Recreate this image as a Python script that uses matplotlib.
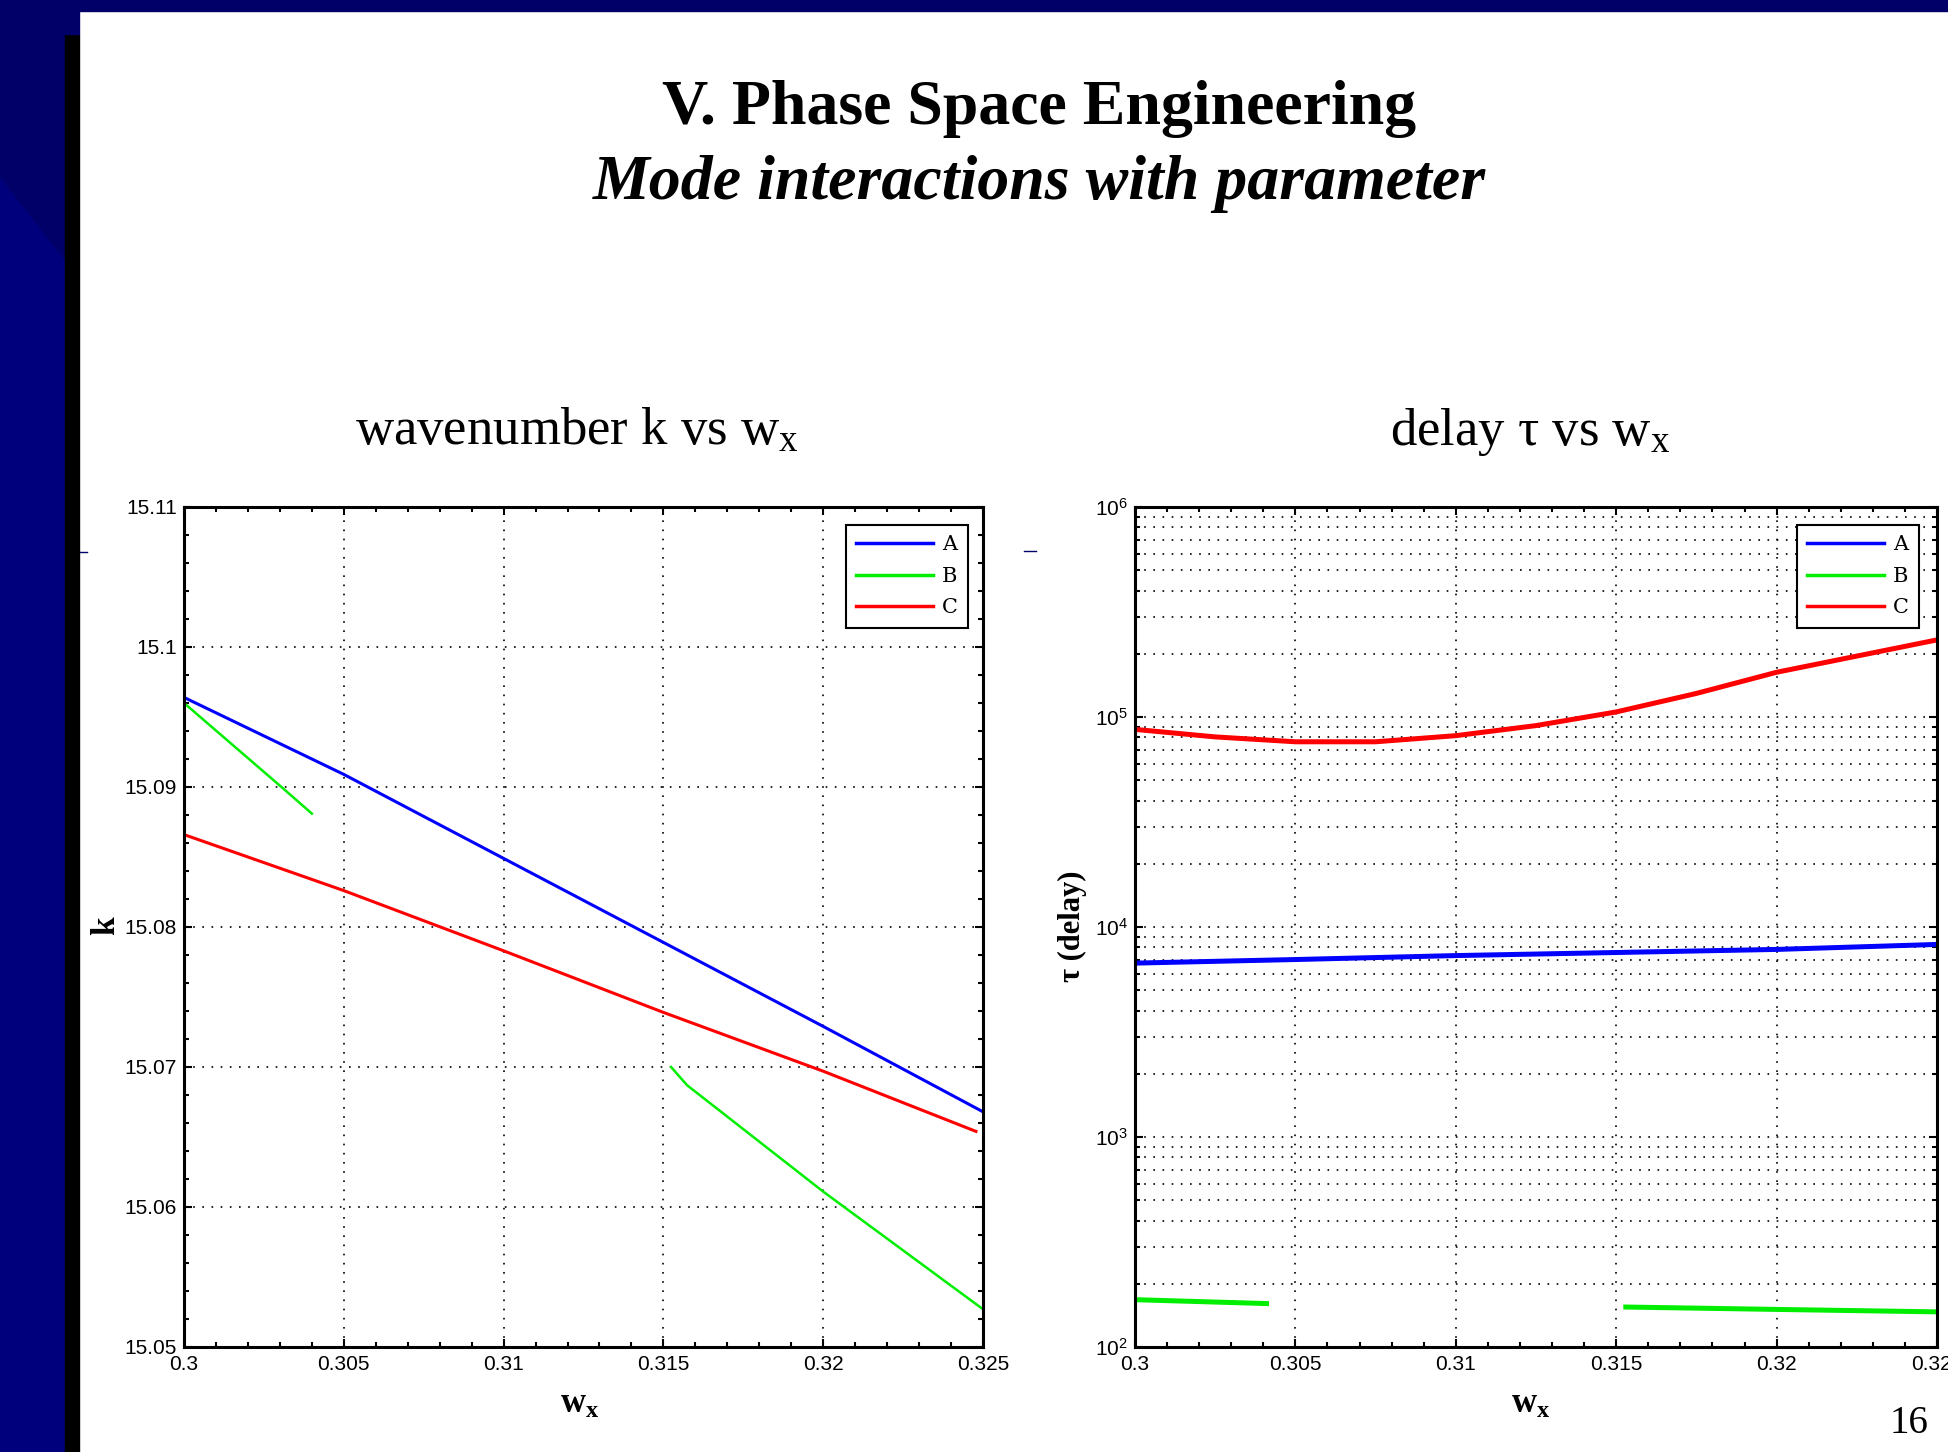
import numpy as np
import matplotlib
matplotlib.use("Agg")
import matplotlib.pyplot as plt
from matplotlib.patches import Rectangle, Polygon
from matplotlib.lines import Line2D
from matplotlib.ticker import FixedLocator, FormatStrFormatter, FuncFormatter, LogLocator, NullFormatter

plt.rcParams['mathtext.fontset'] = 'custom'
plt.rcParams['mathtext.rm'] = 'Liberation Serif'
plt.rcParams['mathtext.it'] = 'Liberation Serif:italic'
plt.rcParams['mathtext.bf'] = 'Liberation Serif:bold'
plt.rcParams['mathtext.sf'] = 'Liberation Sans'

# ---- data ----
# wavenumber k vs w_x
wx_kA = [0.300, 0.305, 0.310, 0.315, 0.320, 0.325]
k_A = [15.0964, 15.0909, 15.0849, 15.0789, 15.0729, 15.0668]
wx_kB1 = [0.300, 0.3031, 0.3040]
k_B1 = [15.0960, 15.0899, 15.0881]
wx_kB2 = [0.31524, 0.31574, 0.320, 0.325]
k_B2 = [15.0700, 15.0687, 15.0611, 15.0527]
wx_kC = [0.300, 0.305, 0.310, 0.315, 0.320, 0.32478]
k_C = [15.0866, 15.0826, 15.0783, 15.0739, 15.0697, 15.0654]

# delay tau vs w_x
wx_tA = [0.300, 0.305, 0.310, 0.315, 0.320, 0.325]
tau_A = [6730, 7000, 7310, 7560, 7820, 8260]
wx_tB1 = [0.300, 0.3041]
tau_B1 = [168, 161]
wx_tB2 = [0.3153, 0.320, 0.325]
tau_B2 = [155, 151, 147]
wx_tC = [0.300, 0.3025, 0.305, 0.3075, 0.310, 0.3125, 0.315, 0.3175, 0.320, 0.3225, 0.325]
tau_C = [87300, 80400, 76200, 76200, 81500, 91000, 105700, 129500, 163300, 195000, 232900]

x_ticks = [0.300, 0.305, 0.310, 0.315, 0.320, 0.325]
k_ticks = [15.05, 15.06, 15.07, 15.08, 15.09, 15.10, 15.11]
legend_labels = ['A', 'B', 'C']

W, H = 1949, 1452
navy = '#000068'
navy2 = '#00007c'
fig = plt.figure(figsize=(W / 100, H / 100), dpi=100)
fig.patch.set_facecolor('white')


def fx(x):
    return x / W


def fy(y):
    return 1 - y / H


# slide decoration
fig.patches.append(Rectangle((0, fy(11)), 1, 11 / H, transform=fig.transFigure, color=navy, zorder=0))
fig.patches.append(Rectangle((0, 0), fx(65), 1, transform=fig.transFigure, color=navy, zorder=0))
fig.patches.append(Polygon([(0, fy(178)), (fx(65), fy(262)), (fx(65), 0), (0, 0)],
                           closed=True, transform=fig.transFigure, color=navy2, zorder=0))
fig.patches.append(Rectangle((fx(65), 0), fx(14), fy(34), transform=fig.transFigure, color='black', zorder=0))
fig.patches.append(Rectangle((fx(65), fy(34)), fx(14), 34 / H, transform=fig.transFigure, color=navy, zorder=0))
fig.lines.append(Line2D([fx(80), fx(87)], [fy(552), fy(552)], transform=fig.transFigure, color=navy, lw=1))
fig.lines.append(Line2D([fx(1024), fx(1036)], [fy(551), fy(551)], transform=fig.transFigure, color=navy, lw=1))

serif = 'Liberation Serif'
fig.text(fx(1039), fy(124), 'V. Phase Space Engineering', family=serif, weight='bold',
         fontsize=46, ha='center', va='baseline')
fig.text(fx(1039), fy(199), 'Mode interactions with parameter', family=serif, weight='bold',
         style='italic', fontsize=46, ha='center', va='baseline')
fig.text(fx(577), fy(445), r'wavenumber k vs w$_\mathrm{x}$', family=serif, fontsize=38,
         ha='center', va='baseline')
fig.text(fx(1530), fy(445), r'delay τ vs w$_\mathrm{x}$', family=serif, fontsize=38,
         ha='center', va='baseline')
fig.text(fx(1909), fy(1433), '16', family=serif, fontsize=28, ha='center', va='baseline')

# axis labels
fig.text(fx(106), fy(926), 'k', family=serif, weight='bold', fontsize=24, rotation=90,
         ha='center', va='center')
fig.text(fx(1072), fy(926), 'τ (delay)', family=serif, weight='bold', fontsize=22, rotation=90,
         ha='center', va='center')
fig.text(fx(580), fy(1413), r'$\mathbf{w}_\mathbf{x}$', fontsize=25, ha='center', va='baseline')
fig.text(fx(1531), fy(1413), r'$\mathbf{w}_\mathbf{x}$', fontsize=25, ha='center', va='baseline')

grid_kw = dict(color='black', linestyle=(0, (1, 4.5)), linewidth=1.2)
tick_font = 'Liberation Sans'
legend_font = {'family': 'DejaVu Serif', 'size': 15}


def style_axes(ax):
    for s in ax.spines.values():
        s.set_linewidth(2.2)
    ax.tick_params(which='both', direction='in', top=True, right=True, width=1.5,
                   labelsize=15, colors='black')
    ax.tick_params(which='major', length=6)
    ax.tick_params(which='minor', length=3.6)
    ax.tick_params(axis='x', pad=6)
    ax.tick_params(axis='y', pad=5)
    for lab in ax.get_xticklabels() + ax.get_yticklabels():
        lab.set_family(tick_font)


def add_legend(ax, handles, anchor_x):
    leg = ax.legend(handles, legend_labels, loc='upper right', bbox_to_anchor=(anchor_x, 0.9786),
                    borderaxespad=0, fancybox=False, framealpha=1, edgecolor='black',
                    prop=legend_font, handlelength=3.7, handletextpad=0.4,
                    labelspacing=0.6, borderpad=0.5)
    leg.get_frame().set_linewidth(1.5)
    for ln in leg.get_lines():
        ln.set_linewidth(2.5)
    return leg


# ---- left: k vs w_x ----
ax1 = fig.add_axes([fx(184), fy(1347), 799 / W, 840 / H])
la, = ax1.plot(wx_kA, k_A, color='#0000ff', lw=2.2)
lb, = ax1.plot(wx_kB1, k_B1, color='#00ee00', lw=1.8)
lc, = ax1.plot(wx_kC, k_C, color='#ff0000', lw=2.2)
ax1.plot(wx_kB2, k_B2, color='#00ee00', lw=1.8)
ax1.set_xlim(0.3, 0.325)
ax1.set_ylim(15.05, 15.11)
ax1.xaxis.set_major_locator(FixedLocator(x_ticks))
ax1.yaxis.set_major_locator(FixedLocator(k_ticks))
ax1.xaxis.set_minor_locator(FixedLocator(np.arange(0.3, 0.3251, 0.001)))
ax1.yaxis.set_minor_locator(FixedLocator(np.arange(15.05, 15.1101, 0.002)))
ax1.xaxis.set_major_formatter(FormatStrFormatter('%g'))
ax1.yaxis.set_major_formatter(FormatStrFormatter('%g'))
ax1.grid(True, which='major', **grid_kw)
style_axes(ax1)
add_legend(ax1, [la, lb, lc], (968 - 184) / 799)

# ---- right: tau vs w_x ----
ax2 = fig.add_axes([fx(1135), fy(1347), 802 / W, 840 / H])
ta, = ax2.semilogy(wx_tA, tau_A, color='#0000ff', lw=3.6)
tb, = ax2.semilogy(wx_tB1, tau_B1, color='#00ee00', lw=3.6)
tc, = ax2.semilogy(wx_tC, tau_C, color='#ff0000', lw=3.6)
ax2.semilogy(wx_tB2, tau_B2, color='#00ee00', lw=3.6)
ax2.set_xlim(0.3, 0.325)
ax2.set_ylim(1e2, 1e6)
ax2.xaxis.set_major_locator(FixedLocator(x_ticks))
ax2.xaxis.set_minor_locator(FixedLocator(np.arange(0.3, 0.3251, 0.001)))
ax2.xaxis.set_major_formatter(FormatStrFormatter('%g'))
ax2.yaxis.set_major_locator(LogLocator(base=10, numticks=10))
ax2.yaxis.set_minor_locator(LogLocator(base=10, subs=np.arange(2, 10), numticks=20))
ax2.yaxis.set_minor_formatter(NullFormatter())
ax2.yaxis.set_major_formatter(FuncFormatter(lambda v, p: r'$\mathsf{10^{%d}}$' % round(np.log10(v))))
ax2.grid(True, which='major', **grid_kw)
ax2.grid(True, which='minor', axis='y', **grid_kw)
style_axes(ax2)
add_legend(ax2, [ta, tb, tc], (1919 - 1135) / 802)

fig.savefig('out.png', dpi=100)
